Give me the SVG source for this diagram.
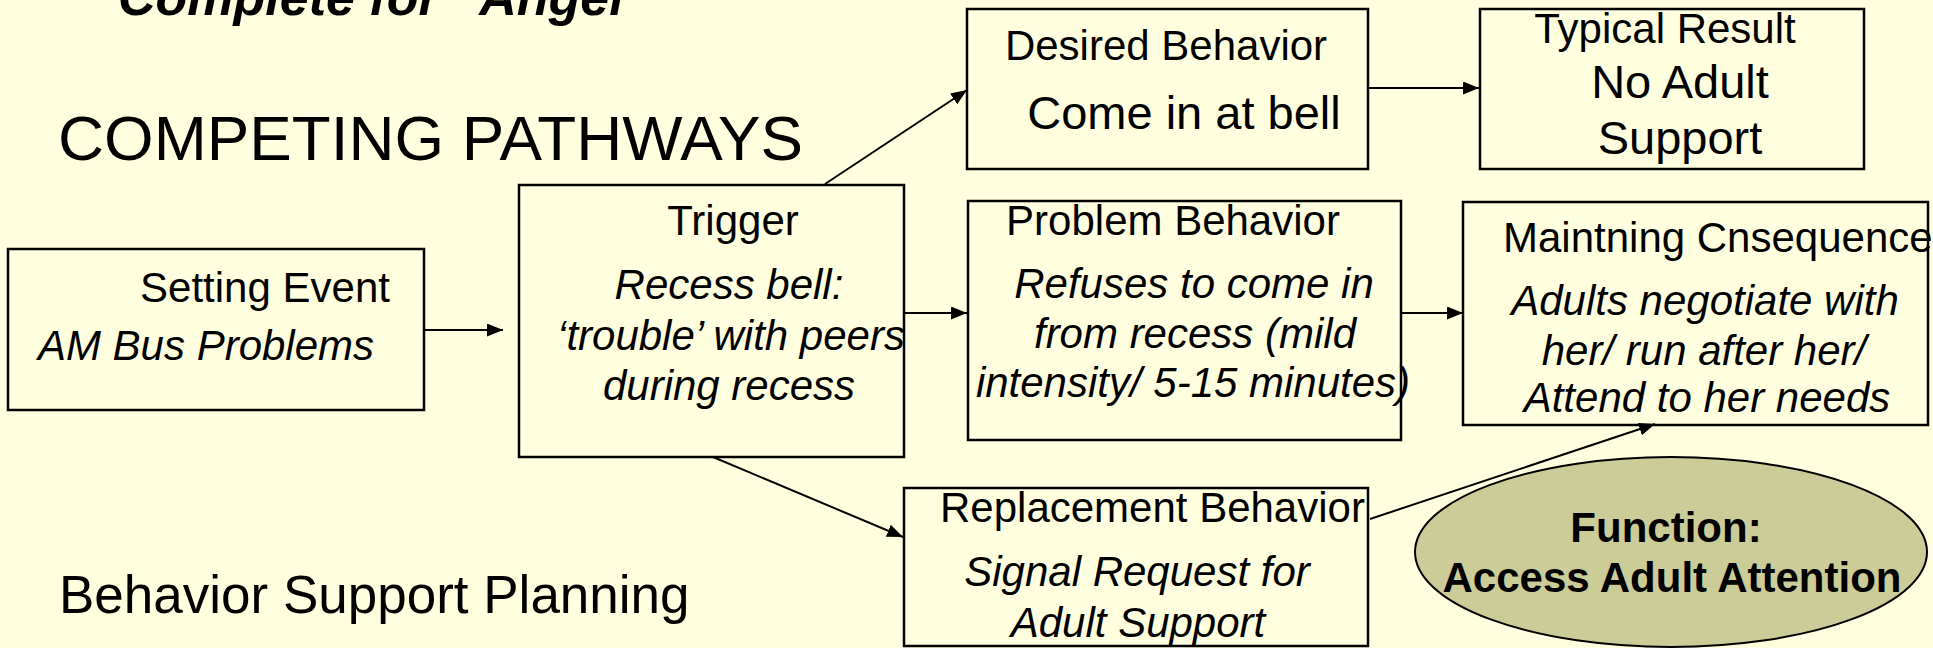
<svg xmlns="http://www.w3.org/2000/svg" width="1933" height="648" viewBox="0 0 1933 648">
  <style>
    .box { fill: none; stroke: #000; stroke-width: 2.5; }
    .link { fill: none; stroke: #000; stroke-width: 2; }
    text { font-family: "Liberation Sans", Arial, sans-serif; fill: #000; }
    .lbl { font-size: 42px; }
    .big { font-size: 47px; }
    .it { font-style: italic; }
    .c { text-anchor: middle; }
    .fn { font-size: 42px; font-weight: bold; text-anchor: middle; }
  </style>
  <defs>
    <marker id="arrow" markerUnits="userSpaceOnUse" markerWidth="16" markerHeight="13" refX="16" refY="6.5" orient="auto">
      <path d="M0,0 L16,6.5 L0,13 z" fill="#000"/>
    </marker>
  </defs>

  <rect x="0" y="0" width="1933" height="648" fill="#FFFFDF"/>

  <!-- slide headings -->
  <text x="118" y="15" font-size="52" font-weight="bold" font-style="italic">Complete for “Angel”</text>
  <text x="58" y="160" font-size="63" textLength="745" lengthAdjust="spacingAndGlyphs">COMPETING PATHWAYS</text>
  <text x="59" y="613" font-size="53">Behavior Support Planning</text>

  <!-- connectors -->
  <g id="connectors">
    <line class="link" x1="424" y1="330" x2="503" y2="330" marker-end="url(#arrow)"/>
    <line class="link" x1="904" y1="313" x2="967" y2="313" marker-end="url(#arrow)"/>
    <line class="link" x1="825" y1="184" x2="967" y2="90" marker-end="url(#arrow)"/>
    <line class="link" x1="713" y1="457" x2="903" y2="537" marker-end="url(#arrow)"/>
    <line class="link" x1="1368" y1="88" x2="1479" y2="88" marker-end="url(#arrow)"/>
    <line class="link" x1="1401" y1="313" x2="1463" y2="313" marker-end="url(#arrow)"/>
    <line class="link" x1="1370" y1="519" x2="1655" y2="424" marker-end="url(#arrow)"/>
  </g>

  <g id="setting-event">
    <rect class="box" x="8" y="249" width="416" height="161"/>
    <text class="lbl c" x="265" y="302">Setting Event</text>
    <text class="lbl it c" x="206" y="360">AM Bus Problems</text>
  </g>

  <g id="trigger">
    <rect class="box" x="519" y="185" width="385" height="272"/>
    <text class="lbl c" x="733" y="235">Trigger</text>
    <text class="lbl it c" x="729" y="299">Recess bell:</text>
    <text class="lbl it c" x="731" y="350">‘trouble’ with peers</text>
    <text class="lbl it c" x="729" y="400">during recess</text>
  </g>

  <g id="desired-behavior">
    <rect class="box" x="967" y="9" width="401" height="160"/>
    <text class="lbl c" x="1166" y="60">Desired Behavior</text>
    <text class="big c" x="1184" y="129">Come in at bell</text>
  </g>

  <g id="typical-result">
    <rect class="box" x="1480" y="9" width="384" height="160"/>
    <text class="lbl c" x="1665" y="43">Typical Result</text>
    <text class="big c" x="1680" y="98">No Adult</text>
    <text class="big c" x="1680" y="154">Support</text>
  </g>

  <g id="problem-behavior">
    <rect class="box" x="968" y="201" width="433" height="239"/>
    <text class="lbl c" x="1173" y="235">Problem Behavior</text>
    <text class="lbl it c" x="1194" y="298">Refuses to come in</text>
    <text class="lbl it c" x="1195" y="348">from recess (mild</text>
    <text class="lbl it c" x="1193" y="397">intensity/ 5-15 minutes)</text>
  </g>

  <g id="maintaining-consequence">
    <rect class="box" x="1463" y="202" width="465" height="223"/>
    <text class="lbl" x="1503" y="252">Maintning Cnsequence</text>
    <text class="lbl it c" x="1705" y="315">Adults negotiate with</text>
    <text class="lbl it c" x="1704" y="365">her/ run after her/</text>
    <text class="lbl it c" x="1707" y="412">Attend to her needs</text>
  </g>

  <g id="replacement-behavior">
    <rect class="box" x="904" y="488" width="464" height="158"/>
    <text class="lbl" x="940" y="522">Replacement Behavior</text>
    <text class="lbl it c" x="1137" y="586">Signal Request for</text>
    <text class="lbl it c" x="1138" y="637">Adult Support</text>
  </g>

  <g id="function">
    <ellipse cx="1671" cy="552" rx="256" ry="95" fill="#CCCC99" stroke="#000" stroke-width="2"/>
    <text class="fn" x="1666" y="542">Function:</text>
    <text class="fn" x="1672" y="592">Access Adult Attention</text>
  </g>
</svg>
